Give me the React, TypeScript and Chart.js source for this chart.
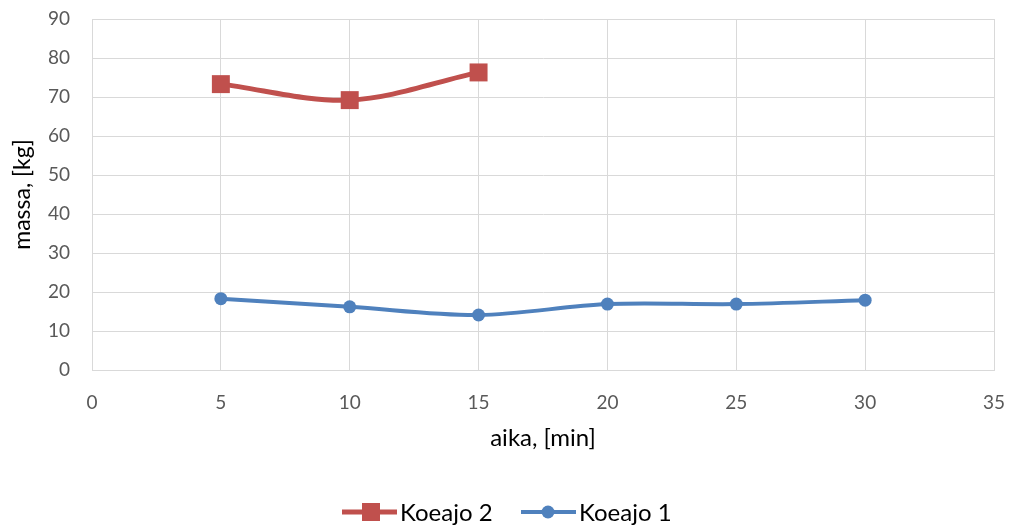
import React, { useEffect, useRef } from "react";
import { Chart, registerables } from "chart.js";

Chart.register(...registerables);

// Measurement data: time in minutes, mass in kg
const koeajo1Minutes = [5, 10, 15, 20, 25, 30];
const koeajo1Mass = [18.3, 16.2, 14.1, 16.9, 16.9, 17.9];
const koeajo2Minutes = [5, 10, 15];
const koeajo2Mass = [73.3, 69.2, 76.3];

const xTitle = "aika, [min]";
const yTitle = "massa, [kg]";
const seriesNames = ["Koeajo 1", "Koeajo 2"];

const RED = "#C0504D";
const BLUE = "#4F81BD";
const GRID = "#D9D9D9";
const FONT = "Lato, 'Open Sans', sans-serif";

// Legend drawn as line + marker samples under the plot
const lineLegend = {
  id: "lineLegend",
  afterDraw(chart: Chart) {
    const ctx = chart.ctx;
    const y = 512;
    const items = [
      { name: seriesNames[1], color: RED, x: 342, lw: 5, marker: "rect" },
      { name: seriesNames[0], color: BLUE, x: 521, lw: 4, marker: "circle" },
    ];
    ctx.save();
    ctx.font = `24px ${FONT}`;
    ctx.textBaseline = "middle";
    ctx.textAlign = "left";
    for (const it of items) {
      ctx.strokeStyle = it.color;
      ctx.lineWidth = it.lw;
      ctx.beginPath();
      ctx.moveTo(it.x, y);
      ctx.lineTo(it.x + 55, y);
      ctx.stroke();
      ctx.fillStyle = it.color;
      if (it.marker === "rect") {
        ctx.fillRect(it.x + 29 - 9, y - 9, 18, 18);
      } else {
        ctx.beginPath();
        ctx.arc(it.x + 27, y, 6.5, 0, Math.PI * 2);
        ctx.fill();
      }
      ctx.fillStyle = "#000";
      ctx.fillText(it.name, it.x + 58, y + 1);
    }
    ctx.restore();
  },
};

export default function App() {
  const canvasRef = useRef<HTMLCanvasElement | null>(null);

  useEffect(() => {
    document.body.style.margin = "0";
    const canvas = canvasRef.current;
    if (!canvas) return;
    const chart = new Chart(canvas, {
      type: "line",
      data: {
        datasets: [
          {
            label: seriesNames[0],
            data: koeajo1Minutes.map((x, i) => ({ x, y: koeajo1Mass[i] })),
            borderColor: BLUE,
            backgroundColor: BLUE,
            borderWidth: 4,
            pointStyle: "circle",
            pointRadius: 6.5,
            pointBorderWidth: 0,
            tension: 0.33,
          },
          {
            label: seriesNames[1],
            data: koeajo2Minutes.map((x, i) => ({ x, y: koeajo2Mass[i] })),
            borderColor: RED,
            backgroundColor: RED,
            borderWidth: 5,
            pointStyle: "rect",
            pointRadius: 12.7,
            pointBorderWidth: 0,
            tension: 0.33,
          },
        ],
      },
      options: {
        animation: false,
        responsive: false,
        layout: {
          autoPadding: false,
          padding: { left: 0, right: 19, top: 19, bottom: 74 },
        },
        plugins: {
          legend: { display: false },
          tooltip: { enabled: false },
        },
        scales: {
          x: {
            type: "linear",
            min: 0,
            max: 35,
            ticks: {
              stepSize: 5,
              color: "#595959",
              font: { family: FONT, size: 19 },
              padding: 21,
            },
            grid: { color: GRID, drawTicks: false },
            border: { color: GRID },
            title: {
              display: true,
              text: xTitle,
              color: "#000",
              font: { family: FONT, size: 24 },
              padding: { top: 8, bottom: 0 },
            },
            afterFit(scale: any) {
              scale.height = 83;
              scale.paddingLeft = 0;
              scale.paddingRight = 0;
            },
          },
          y: {
            min: 0,
            max: 90,
            ticks: {
              stepSize: 10,
              color: "#595959",
              font: { family: FONT, size: 19 },
              padding: 22,
            },
            grid: { color: GRID, drawTicks: false },
            border: { color: GRID },
            title: {
              display: true,
              text: yTitle,
              color: "#000",
              font: { family: FONT, size: 23 },
              padding: { top: 9, bottom: 8 },
            },
            afterFit(scale: any) {
              scale.width = 92;
              scale.paddingTop = 0;
              scale.paddingBottom = 0;
            },
          },
        },
      },
      plugins: [lineLegend],
    });
    return () => chart.destroy();
  }, []);

  return (
    <div style={{ width: 1013, height: 527, background: "#fff" }}>
      <canvas ref={canvasRef} width={1013} height={527} />
    </div>
  );
}
